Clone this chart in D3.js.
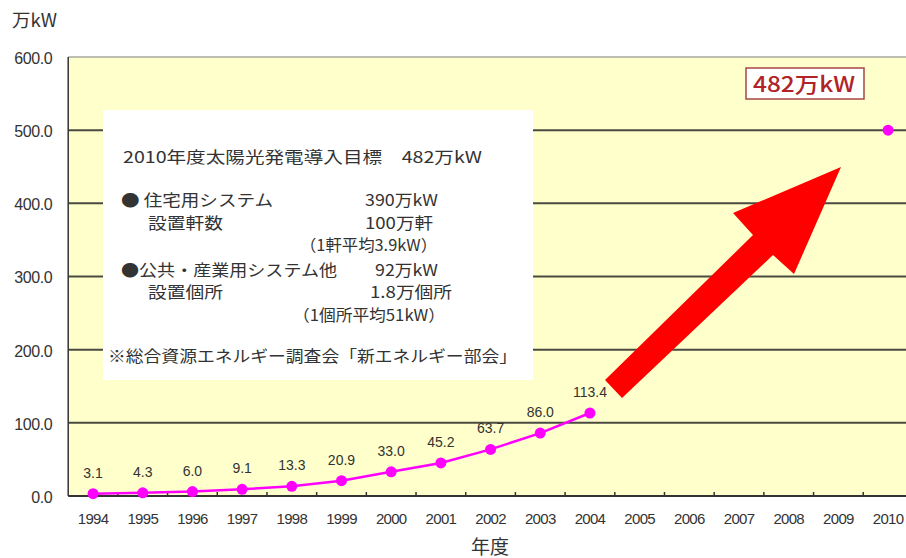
<!DOCTYPE html>
<html>
<head>
<meta charset="utf-8">
<script src="https://cdn.jsdelivr.net/npm/d3@7"></script>
<style>
  body { margin: 0; background: #fff; }
  text { font-family: "Liberation Sans", Arial, sans-serif; fill: #333; }
  .jp { font-family: "Noto Sans CJK JP", sans-serif; }
</style>
</head>
<body>
<div id="chart"></div>
<script>
// Data
const years = d3.range(1994, 2011).map(String)
const actualYears = ['1994', '1995', '1996', '1997', '1998', '1999', '2000', '2001', '2002', '2003', '2004']
const actualValues = [3.1, 4.3, 6.0, 9.1, 13.3, 20.9, 33.0, 45.2, 63.7, 86.0, 113.4]
const targetYear = ['2010']
const targetValue = [500]
const yTicks = [0, 100, 200, 300, 400, 500, 600]

// Info box lines: text, anchor x, baseline y, span width
const boxLines = [
  ['2010年度太陽光発電導入目標　482万kW', 123, 163, 359, 'start'],
  ['● 住宅用システム', 121, 206, 152, 'start'],
  ['390万kW', 438, 206, 73, 'end'],
  ['設置軒数', 148, 229, 75, 'start'],
  ['100万軒', 433, 229, 68, 'end'],
  ['（1軒平均3.9kW）', 437, 251, 137, 'end'],
  ['●公共・産業用システム他', 121, 276, 216, 'start'],
  ['92万kW', 438, 276, 63, 'end'],
  ['設置個所', 148, 298, 75, 'start'],
  ['1.8万個所', 452, 298, 82, 'end'],
  ['（1個所平均51kW）', 445, 321, 152, 'end'],
  ['※総合資源エネルギー調査会「新エネルギー部会」', 108, 362, 409, 'start']
]

const width = 906
const height = 558

const svg = d3.select('#chart')
  .append('svg')
  .attr('width', width)
  .attr('height', height)

// Scales
const step = 49.69
const x = d3.scaleBand()
  .domain(years)
  .range([68.2, 68.2 + step * years.length])

const y = d3.scaleLinear()
  .domain([0, 600])
  .range([496, 57])

const plotLeft = x.range()[0]
const plotRight = x.range()[1]

// Plot background
svg.append('rect')
  .attr('x', plotLeft)
  .attr('y', y(600))
  .attr('width', plotRight - plotLeft)
  .attr('height', y(0) - y(600))
  .attr('fill', '#ffffcc')

// Top border
svg.append('line')
  .attr('x1', plotLeft).attr('x2', plotRight)
  .attr('y1', y(600)).attr('y2', y(600))
  .attr('stroke', '#a8a8a0')
  .attr('stroke-width', 1.5)

// Gridlines
svg.append('g')
  .selectAll('line')
  .data(yTicks.filter(d => d > 0 && d < 600))
  .enter().append('line')
  .attr('x1', plotLeft).attr('x2', plotRight)
  .attr('y1', d => y(d)).attr('y2', d => y(d))
  .attr('stroke', '#4a4a40')
  .attr('stroke-width', 2)

// Y axis labels
const yAxis = svg.append('g')
  .attr('transform', `translate(${plotLeft},0)`)
  .call(d3.axisLeft(y).tickValues(yTicks).tickFormat(d3.format('.1f')).tickSize(0).tickPadding(16))
yAxis.select('.domain').remove()
yAxis.selectAll('text')
  .attr('font-size', 16)
  .attr('letter-spacing', -0.4)
  .attr('dy', '0.4em')

// Left axis line
svg.append('line')
  .attr('x1', plotLeft).attr('x2', plotLeft)
  .attr('y1', y(600)).attr('y2', y(0))
  .attr('stroke', '#333')
  .attr('stroke-width', 1.5)

// Bottom axis
svg.append('line')
  .attr('x1', plotLeft).attr('x2', plotRight)
  .attr('y1', y(0)).attr('y2', y(0))
  .attr('stroke', '#333')
  .attr('stroke-width', 2)

svg.append('g')
  .selectAll('line')
  .data(years.slice(1))
  .enter().append('line')
  .attr('x1', d => x(d)).attr('x2', d => x(d))
  .attr('y1', y(0)).attr('y2', y(0) - 4)
  .attr('stroke', '#333')
  .attr('stroke-width', 1.5)

const xAxis = svg.append('g')
  .attr('transform', `translate(0,${y(0)})`)
  .call(d3.axisBottom(x).tickSize(0).tickPadding(17))
xAxis.select('.domain').remove()
xAxis.selectAll('text')
  .attr('font-size', 15)
  .attr('letter-spacing', -0.7)

// Axis titles
svg.append('text')
  .attr('class', 'jp')
  .attr('x', 12)
  .attr('y', 27)
  .attr('font-size', 18)
  .attr('textLength', 45)
  .attr('lengthAdjust', 'spacingAndGlyphs')
  .text('万kW')

svg.append('text')
  .attr('class', 'jp')
  .attr('x', 490)
  .attr('y', 554)
  .attr('text-anchor', 'middle')
  .attr('font-size', 19)
  .text('年度')

// Info box
svg.append('rect')
  .attr('x', 103)
  .attr('y', 110)
  .attr('width', 430)
  .attr('height', 270)
  .attr('fill', '#fff')

svg.append('g')
  .selectAll('text')
  .data(boxLines)
  .enter().append('text')
  .attr('class', 'jp')
  .attr('x', d => d[1])
  .attr('y', d => d[2])
  .attr('text-anchor', d => d[4])
  .attr('font-size', 16)
  .attr('textLength', d => d[3])
  .attr('lengthAdjust', 'spacingAndGlyphs')
  .text(d => d[0])

// Big red arrow
svg.append('path')
  .attr('d', 'M605,380 L753,235 L733,213 L841,167 L794,274 L773,255 L622,398 Z')
  .attr('fill', '#ff0000')

// Line series
const actual = actualYears.map((d, i) => ({ year: d, value: actualValues[i] }))
const cx = d => x(d) + x.bandwidth() / 2

svg.append('path')
  .datum(actual)
  .attr('fill', 'none')
  .attr('stroke', '#ff00ff')
  .attr('stroke-width', 2.5)
  .attr('d', d3.line().x(d => cx(d.year)).y(d => y(d.value)))

svg.append('g')
  .selectAll('circle')
  .data(actual)
  .enter().append('circle')
  .attr('cx', d => cx(d.year))
  .attr('cy', d => y(d.value))
  .attr('r', 5.5)
  .attr('fill', '#ff00ff')

svg.append('g')
  .selectAll('text')
  .data(actual)
  .enter().append('text')
  .attr('x', d => cx(d.year))
  .attr('y', d => y(d.value) - 16)
  .attr('text-anchor', 'middle')
  .attr('font-size', 14)
  .text(d => d3.format('.1f')(d.value))

// Target point
svg.append('circle')
  .attr('cx', cx(targetYear[0]))
  .attr('cy', y(targetValue[0]))
  .attr('r', 5.5)
  .attr('fill', '#ff00ff')

// Target label box
svg.append('rect')
  .attr('x', 746)
  .attr('y', 68)
  .attr('width', 118)
  .attr('height', 31)
  .attr('fill', '#fff')
  .attr('stroke', '#a84545')
  .attr('stroke-width', 1.5)

svg.append('text')
  .attr('class', 'jp')
  .attr('x', 804)
  .attr('y', 92)
  .attr('text-anchor', 'middle')
  .attr('font-size', 21)
  .attr('font-weight', 500)
  .attr('textLength', 102)
  .attr('lengthAdjust', 'spacingAndGlyphs')
  .style('fill', '#b02428')
  .text('482万kW')
</script>
</body>
</html>
